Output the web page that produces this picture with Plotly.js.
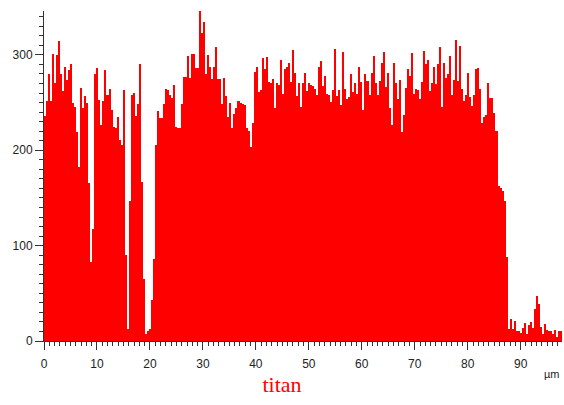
<!DOCTYPE html>
<html>
<head>
<meta charset="utf-8">
<script src="https://cdn.plot.ly/plotly-3.0.1.min.js"></script>
<style>html,body{margin:0;padding:0;background:#fff;}#chart{width:564px;height:405px;}</style>
</head>
<body>
<div id="chart"></div>
<script>
// Histogram counts (one value per bin, left to right)
const counts = [
236,252,280,252,301,271,300,315,280,262,287,274,284,290,250,245,219,182,265,244,
257,250,166,83,117,280,286,253,227,252,284,258,264,242,224,223,235,211,206,263,
90,13,147,258,260,236,248,290,167,65,7,10,13,43,86,205,241,234,234,249,
264,263,258,255,268,224,223,223,249,277,277,299,276,301,301,286,286,346,323,334,
280,300,287,275,287,308,275,275,248,276,257,235,250,223,238,244,252,250,249,247,
223,220,203,229,282,287,261,263,297,285,298,272,271,275,244,271,268,295,259,285,
287,292,272,305,281,257,271,245,270,281,262,271,268,267,264,258,287,294,267,278,
259,258,251,263,306,257,263,247,303,264,254,256,280,261,270,259,287,272,242,280,
273,258,281,299,271,258,273,292,303,266,281,244,227,291,270,254,274,219,237,265,
285,278,302,259,264,263,254,272,304,290,295,262,271,287,269,290,308,245,292,276,
280,299,258,274,316,273,309,264,252,258,281,256,246,258,285,286,264,229,235,237,
271,255,255,239,220,162,160,157,147,88,13,23,13,21,11,10,8,14,19,7,
17,20,14,34,47,39,15,7,18,12,11,10,7,12,4,10,10
];
const xMax = 97.8;            // µm, right end of the scan
const binWidth = xMax / counts.length;
const xCenters = counts.map((_, i) => (i + 0.5) * binWidth);

const yMajorTicks = [0, 100, 200, 300];
const xMajorTicks = [0, 10, 20, 30, 40, 50, 60, 70, 80, 90];
const titleText = 'titan';
const unitText = 'µm';

const tickFont = {family: 'Arial, Liberation Sans, sans-serif', size: 12, color: '#222'};

const data = [{
  type: 'bar',
  x: xCenters,
  y: counts,
  width: binWidth,
  marker: {color: '#ff0000', line: {width: 0}},
  hoverinfo: 'x+y'
}];

const layout = {
  width: 564, height: 405,
  margin: {l: 44, r: 2, t: 11, b: 64},
  paper_bgcolor: '#ffffff', plot_bgcolor: '#ffffff',
  showlegend: false,
  bargap: 0,
  title: {
    text: titleText, x: 0.5, xanchor: 'center', y: 0.05, yanchor: 'middle',
    font: {family: 'Liberation Serif, Times New Roman, serif', size: 22, color: '#ff0000'}
  },
  xaxis: {
    range: [0, xMax], showgrid: false, zeroline: false,
    showline: true, linecolor: '#333', linewidth: 1,
    ticks: 'outside', tickvals: xMajorTicks, ticklen: 8, tickcolor: '#333', tickwidth: 1,
    ticklabelstandoff: 4,
    minor: {dtick: 1, ticks: 'outside', ticklen: 4, tickcolor: '#333', tickwidth: 1, showgrid: false},
    tickfont: tickFont
  },
  xaxis2: {
    overlaying: 'x', matches: 'x', side: 'bottom', anchor: 'y',
    showgrid: false, zeroline: false, showline: false,
    ticks: 'outside', dtick: 5, tick0: 0, ticklen: 6, tickcolor: '#333', tickwidth: 1,
    showticklabels: false
  },
  yaxis: {
    range: [0, 346], showgrid: false, zeroline: false,
    showline: true, linecolor: '#333', linewidth: 1,
    ticks: 'outside', tickvals: yMajorTicks, ticklen: 8, tickcolor: '#333', tickwidth: 1,
    minor: {dtick: 10, ticks: 'outside', ticklen: 4, tickcolor: '#333', tickwidth: 1, showgrid: false},
    tickfont: tickFont
  },
  annotations: [{
    text: unitText, xref: 'paper', yref: 'paper', x: 1, y: -0.1,
    xanchor: 'right', yanchor: 'middle', showarrow: false,
    font: {family: 'Arial, Liberation Sans, sans-serif', size: 11, color: '#222'}
  }]
};

Plotly.newPlot('chart', data, layout, {displayModeBar: false, staticPlot: true});
</script>
</body>
</html>
